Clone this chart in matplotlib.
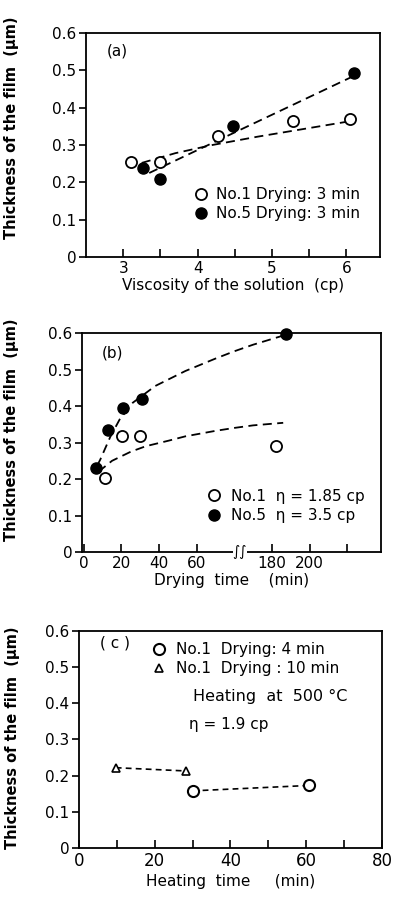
import numpy as np
import matplotlib
matplotlib.use('Agg')
import matplotlib.pyplot as plt
from matplotlib.lines import Line2D

plt.rcParams['font.family'] = ['DejaVu Sans']

# (a) thickness vs viscosity
visc_no1 = [3.10, 3.49, 4.27, 5.28, 6.05]
thick_a_no1 = [0.255, 0.255, 0.325, 0.365, 0.370]
visc_no5 = [3.27, 3.50, 4.48, 6.10]
thick_a_no5 = [0.237, 0.210, 0.350, 0.493]
trend_a_no1_x = [3.25, 3.7, 4.2, 4.8, 5.4, 6.0]
trend_a_no1_y = [0.252, 0.278, 0.300, 0.322, 0.342, 0.362]
trend_a_no5_x = [3.35, 6.10]
trend_a_no5_y = [0.225, 0.485]

# (b) thickness vs drying time (broken axis)
time_no1 = [11, 20.5, 30, 182]
thick_b_no1 = [0.202, 0.319, 0.319, 0.291]
time_no5 = [6.4, 13, 21, 31, 187.5]
thick_b_no5 = [0.230, 0.335, 0.395, 0.420, 0.597]
trend_b_no5_t = [7, 8.7, 14, 19, 26, 38, 54, 70, 120, 170, 186]
trend_b_no5_y = [0.236, 0.253, 0.315, 0.363, 0.409, 0.455, 0.496, 0.530, 0.550, 0.568, 0.593]
trend_b_no1_t = [7.8, 15, 25, 33, 45, 54, 70, 120, 170, 186]
trend_b_no1_y = [0.220, 0.250, 0.275, 0.290, 0.305, 0.317, 0.332, 0.340, 0.347, 0.354]
ticks_b = [0, 20, 40, 60, 180, 200, 220]
ticklabels_b = ['0', '20', '40', '60', '180', '200', '']

# (c) thickness vs heating time
heat_4min = [30.0, 60.8]
thick_c_4min = [0.158, 0.173]
heat_10min = [9.7, 28.3]
thick_c_10min = [0.222, 0.213]

yticks = [0, 0.1, 0.2, 0.3, 0.4, 0.5, 0.6]
yticklabels = ['0', '0.1', '0.2', '0.3', '0.4', '0.5', '0.6']
ylabel = 'Thickness of the film  (\u03bcm)'

# piecewise map for the broken time axis: 70..170 squeezed into 20 units
brk_t = [-10, 70, 170, 400]
brk_d = [-10, 70, 90, 320]
def fwd(t):
    return np.interp(t, brk_t, brk_d)
def inv(d):
    return np.interp(d, brk_d, brk_t)

fig = plt.figure(figsize=(3.97, 9.01), dpi=100)
ax_a = fig.add_axes([0.2166, 0.7148, 0.7404, 0.2486])
ax_b = fig.add_axes([0.2065, 0.3873, 0.7532, 0.2431])
ax_c = fig.add_axes([0.1990, 0.0588, 0.7632, 0.2409])

for ax in (ax_a, ax_b, ax_c):
    for s in ax.spines.values():
        s.set_linewidth(1.3)
    ax.set_ylim(0, 0.6)
    ax.set_yticks(yticks)
    ax.set_yticklabels(yticklabels)
    ax.tick_params(axis='y', direction='out', length=5, width=1.2, labelsize=11, pad=2)
    ax.tick_params(axis='x', which='both', direction='in', length=6, width=1.2, labelsize=11, pad=3)
    ax.set_ylabel(ylabel, fontsize=10.5, fontweight='bold')
ax_a.yaxis.set_label_coords(-0.228, 0.575)
ax_b.yaxis.set_label_coords(-0.211, 0.56)
ax_c.yaxis.set_label_coords(-0.195, 0.51)

dash = dict(color='black', lw=1.3, ls=(0, (5, 3)))
openm = dict(ls='none', marker='o', mfc='white', mec='black', mew=1.3, ms=8)
fillm = dict(ls='none', marker='o', mfc='black', mec='black', ms=8)

# ---- (a)
ax_a.plot(trend_a_no1_x, trend_a_no1_y, **dash)
ax_a.plot(trend_a_no5_x, trend_a_no5_y, **dash)
ax_a.plot(visc_no1, thick_a_no1, clip_on=False, **openm)
ax_a.plot(visc_no5, thick_a_no5, clip_on=False, **fillm)
ax_a.set_xlim(2.5, 6.45)
ax_a.set_xticks([3, 4, 5, 6])
ax_a.set_xticks([3.5, 4.5, 5.5], minor=True)
ax_a.set_xlabel('Viscosity of the solution  (cp)', fontsize=11, labelpad=1)
ax_a.text(0.07, 0.92, '(a)', transform=ax_a.transAxes, fontsize=11, va='center')
h_a = [Line2D([], [], **openm), Line2D([], [], **fillm)]
ax_a.legend(h_a, ['No.1 Drying: 3 min', 'No.5 Drying: 3 min'], loc='center left',
            bbox_to_anchor=(0.34, 0.235), frameon=False, fontsize=11,
            handlelength=1.0, handletextpad=0.5, labelspacing=0.25, borderpad=0)

# ---- (b)
ax_b.set_xscale('function', functions=(fwd, inv))
ax_b.plot(trend_b_no5_t, trend_b_no5_y, **dash)
ax_b.plot(trend_b_no1_t, trend_b_no1_y, **dash)
ax_b.plot(time_no1, thick_b_no1, clip_on=False, **openm)
ax_b.plot(time_no5, thick_b_no5, clip_on=False, **fillm)
ax_b.set_xlim(-1, 238)
ax_b.set_xticks(ticks_b)
ax_b.set_xticklabels(ticklabels_b)
ax_b.set_xlabel('Drying  time    (min)', fontsize=11, labelpad=1)
ax_b.text(0.067, 0.91, '(b)', transform=ax_b.transAxes, fontsize=11, va='center')
# axis break mark
ax_b.text(135, 0, '\u222b\u222b', fontsize=10, ha='center', va='center', clip_on=False,
          bbox=dict(facecolor='white', edgecolor='none', pad=0), zorder=6)
h_b = [Line2D([], [], **openm), Line2D([], [], **fillm)]
ax_b.legend(h_b, ['No.1  \u03b7 = 1.85 cp', 'No.5  \u03b7 = 3.5 cp'], loc='center left',
            bbox_to_anchor=(0.39, 0.21), frameon=False, fontsize=11,
            handlelength=1.0, handletextpad=0.6, labelspacing=0.3, borderpad=0)

# ---- (c)
cm = dict(marker='o', mfc='white', mec='black', mew=1.5, ms=8)
tm = dict(marker='^', mfc='white', mec='black', mew=1.2, ms=6)
ax_c.plot(heat_4min, thick_c_4min, color='black', lw=1.2, ls=(0, (3.5, 2.5)), **cm)
ax_c.plot(heat_10min, thick_c_10min, color='black', lw=1.2, ls=(0, (3.5, 2.5)), **tm)
ax_c.set_xlim(0, 80)
ax_c.set_xticks([0, 20, 40, 60, 80])
ax_c.set_xticks([10, 30, 50, 70], minor=True)
ax_c.tick_params(axis='x', labelsize=12)
ax_c.set_xlabel('Heating  time     (min)', fontsize=11, labelpad=3)
ax_c.text(0.07, 0.945, '( c )', transform=ax_c.transAxes, fontsize=11, va='center')
h_c = [Line2D([], [], ls='none', **cm), Line2D([], [], ls='none', **tm)]
ax_c.legend(h_c, ['No.1  Drying: 4 min', 'No.1  Drying : 10 min'], loc='upper left',
            bbox_to_anchor=(0.2, 1.0), frameon=False, fontsize=11,
            handlelength=1.0, handletextpad=0.6, labelspacing=0.25, borderpad=0.25)
ax_c.text(0.376, 0.696, 'Heating  at  500 \u00b0C', transform=ax_c.transAxes, fontsize=11.5, va='center')
ax_c.text(0.363, 0.567, '\u03b7 = 1.9 cp', transform=ax_c.transAxes, fontsize=11, va='center')

fig.savefig('out.png', dpi=100)
